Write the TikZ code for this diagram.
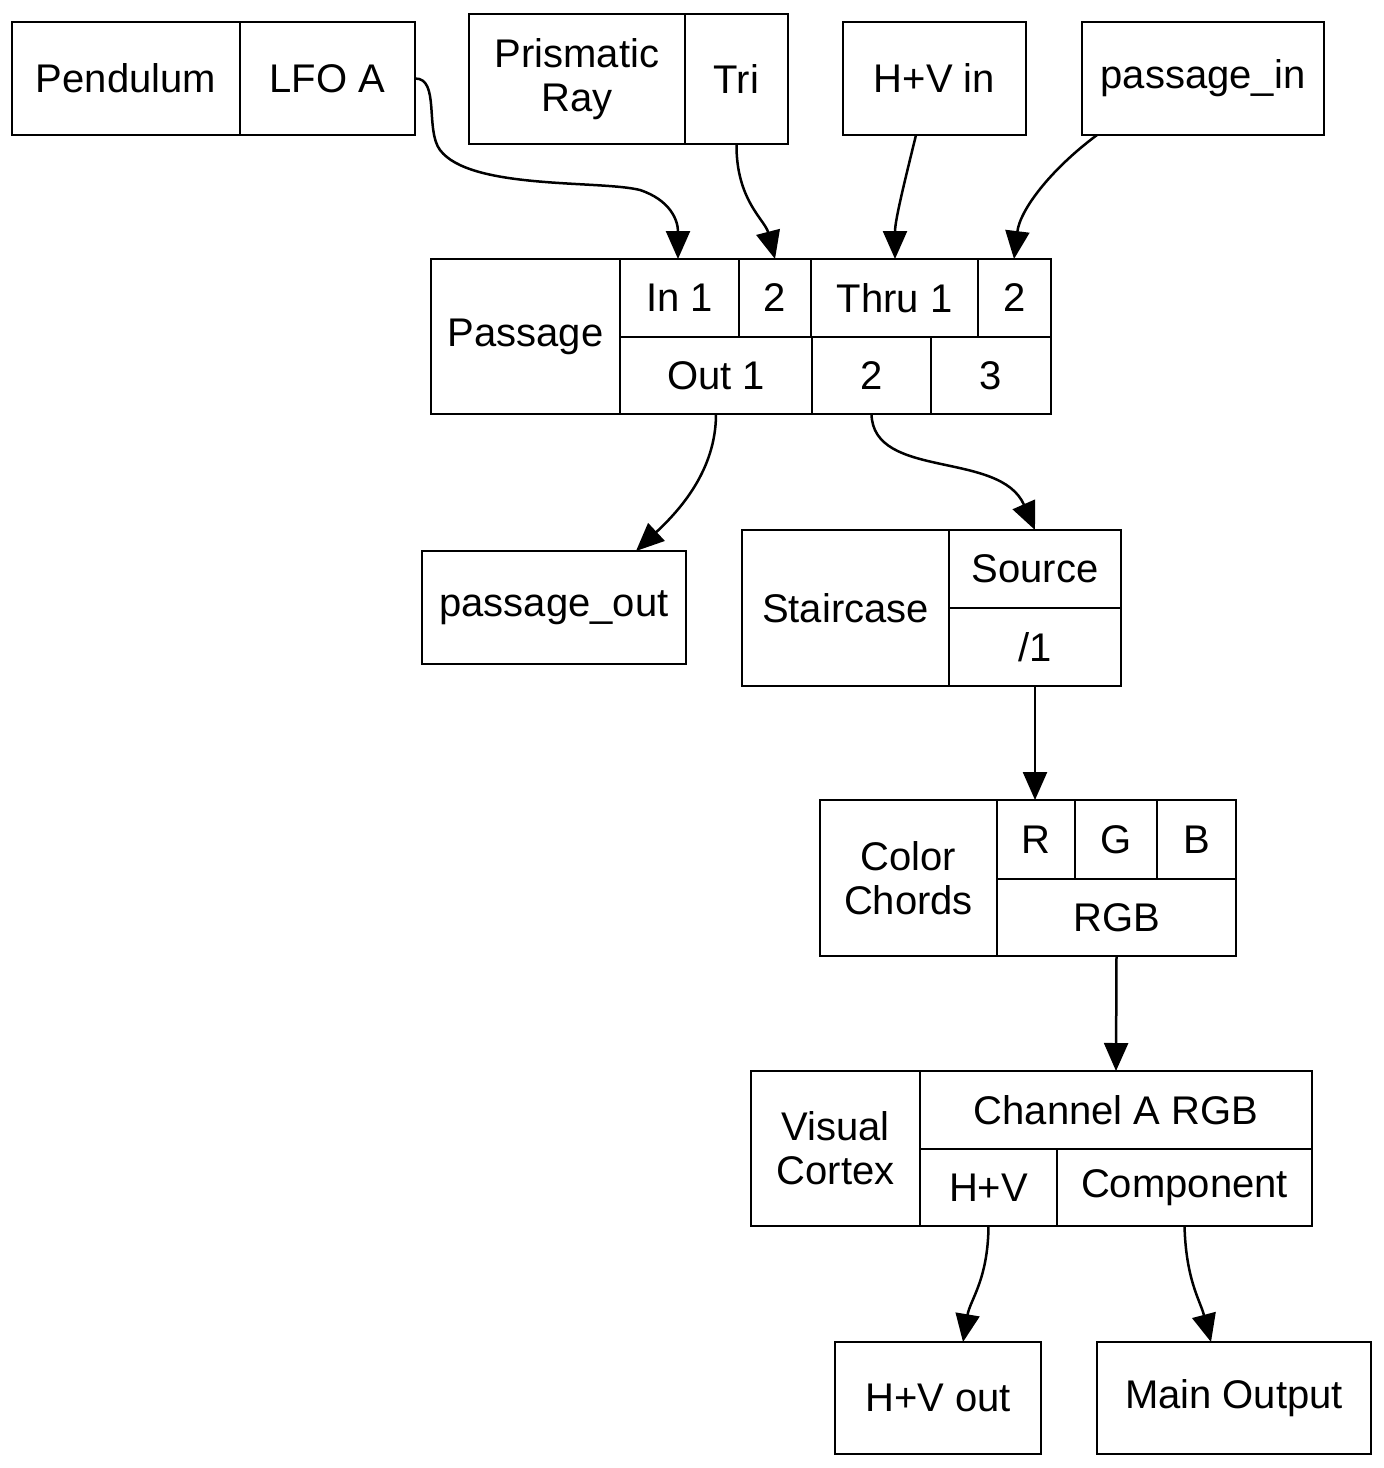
\documentclass[tikz,border=0pt]{standalone}
\usepackage{fontspec}
\setmainfont{Liberation Sans}
\usetikzlibrary{arrows.meta}
\newcommand\cell[6]{\node[cell,minimum width={(#4-#2)*1pt},minimum height={(#5-#3)*1pt}] (#1) at ({(#2+#4)/2},{(#3+#5)/2}) {#6};}
\begin{document}
\begin{tikzpicture}[x=1pt,y=-1pt,
  cell/.style={draw,line width=2.5pt,inner sep=0pt,outer sep=0pt,font=\fontsize{40}{44}\selectfont,align=center},
  conn/.style={line width=2.5pt,-{Triangle[length=28pt,width=24pt]}}]
\useasboundingbox (0,0) rectangle (1384,1468);
\cell{pend}{12}{22}{240}{135}{Pendulum}
\cell{lfo}{240}{22}{415}{135}{LFO A}
\cell{pris}{469}{14}{685}{144}{Prismatic\\Ray}
\cell{tri}{685}{14}{788}{144}{Tri}
\cell{hvin}{843}{22}{1026}{135}{H+V in}
\cell{pin}{1082}{22}{1324}{135}{passage\_in}
\cell{pass}{431}{259}{620}{414}{Passage}
\cell{in1}{620}{259}{739}{337}{In 1}
\cell{in2}{739}{259}{811}{337}{2}
\cell{th1}{811}{259}{978}{337}{Thru 1}
\cell{th2}{978}{259}{1051}{337}{2}
\cell{out1}{620}{337}{812}{414}{Out 1}
\cell{out2}{812}{337}{931}{414}{2}
\cell{out3}{931}{337}{1051}{414}{3}
\cell{pout}{422}{551}{686}{664}{passage\_out}
\cell{stair}{742}{530}{949}{686}{Staircase}
\cell{src}{949}{530}{1121}{608}{Source}
\cell{div}{949}{608}{1121}{686}{/1}
\cell{cc}{820}{800}{997}{956}{Color\\Chords}
\cell{r}{997}{800}{1075}{879}{R}
\cell{g}{1075}{800}{1157}{879}{G}
\cell{b}{1157}{800}{1236}{879}{B}
\cell{rgb}{997}{879}{1236}{956}{RGB}
\cell{vc}{751}{1071}{920}{1226}{Visual\\Cortex}
\cell{cha}{920}{1071}{1312}{1149}{Channel A RGB}
\cell{hv}{920}{1149}{1057}{1226}{H+V}
\cell{comp}{1057}{1149}{1312}{1226}{Component}
\cell{hvout}{835}{1342}{1041}{1454}{H+V out}
\cell{main}{1097}{1342}{1371}{1454}{Main Output}
\draw[conn] (lfo.east) .. controls (440,78) and (425,130) .. (440,150) .. controls (470,190) and (600,180) .. (640,190) .. controls (670,200) and (678,220) .. (678,259);
\draw[conn] (tri.south) .. controls (736,200) and (765,220) .. (775,259);
\draw[conn] (916,135) .. controls (905,180) and (895,220) .. (895,259);
\draw[conn] (1097,135) .. controls (1050,170) and (1020,210) .. (1014,259);
\draw[conn] (out1.south) .. controls (716,470) and (680,510) .. (636,551);
\draw[conn] (out2.south) .. controls (873,480) and (1000,450) .. (1035,530);
\draw[conn] (div.south) -- (1035,800);
\draw[conn] (rgb.south) -- (cha.north);
\draw[conn] (hv.south) .. controls (988,1280) and (970,1300) .. (963,1342);
\draw[conn] (comp.south) .. controls (1186,1280) and (1200,1300) .. (1211,1342);
\end{tikzpicture}
\end{document}
